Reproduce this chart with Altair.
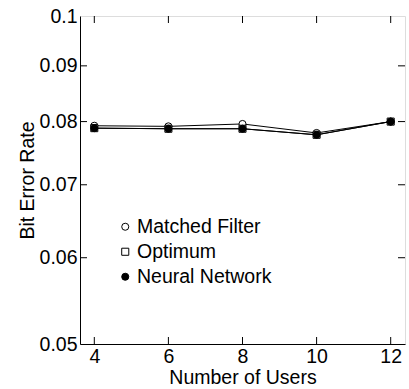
import altair as alt
import pandas as pd

users = [4, 6, 8, 10, 12]
matched_filter = [0.0793, 0.0792, 0.0796, 0.0781, 0.0800]
optimum = [0.0789, 0.0788, 0.0788, 0.0778, 0.0800]
neural_network = [0.0789, 0.0788, 0.0788, 0.0778, 0.0800]
series_names = ["Matched Filter", "Optimum", "Neural Network"]

x_ticks = [4, 6, 8, 10, 12]
y_ticks = [0.05, 0.06, 0.07, 0.08, 0.09, 0.1]

rows = []
for name, vals in zip(series_names, [matched_filter, optimum, neural_network]):
    for u, v in zip(users, vals):
        rows.append({"users": u, "ber": v, "series": name})
df = pd.DataFrame(rows)

W, H = 325, 328
FONT = "Liberation Sans"
FS = 19.5

xs = alt.Scale(domain=[3.614, 12.386], nice=False, zero=False)
ys = alt.Scale(type="log", domain=[0.05, 0.1], nice=False)

xenc = alt.X("users:Q", scale=xs, axis=alt.Axis(values=x_ticks, tickSize=0, labelPadding=3,
             labelFontSize=FS, titleFontSize=FS, title="Number of Users", titlePadding=3,
             grid=False, labelFont=FONT, titleFont=FONT, titleFontWeight="normal",
             labelColor="black", titleColor="black", domainColor="black"))
yenc = alt.Y("ber:Q", scale=ys, axis=alt.Axis(values=y_ticks, tickSize=0, labelPadding=3,
             format="~g", labelFontSize=FS, titleFontSize=FS, title="Bit Error Rate",
             titlePadding=2, grid=False, labelFont=FONT, titleFont=FONT,
             titleFontWeight="normal", labelColor="black", titleColor="black",
             domainColor="black"))

lines = alt.Chart(df).mark_line(color="black", strokeWidth=1).encode(
    x=xenc, y=yenc, detail="series:N",
    order=alt.Order("users:Q"))

shape_scale = alt.Scale(domain=series_names, range=["circle", "square", "circle"])
fill_scale = alt.Scale(domain=series_names, range=["white", "white", "black"])
stroke_scale = alt.Scale(domain=series_names, range=["black", "black", "black"])
size_scale = alt.Scale(domain=series_names, range=[50, 50, 24])

leg = alt.Legend(title=None, orient="none", legendX=35.5, legendY=201, padding=0,
                 labelFontSize=FS, labelFont=FONT, labelColor="black",
                 symbolStrokeWidth=1, labelOffset=2, rowPadding=4)

points = alt.Chart(df).mark_point(strokeWidth=1, opacity=1, filled=False).encode(
    x="users:Q", y="ber:Q",
    shape=alt.Shape("series:N", scale=shape_scale, sort=series_names, legend=leg),
    fill=alt.Fill("series:N", scale=fill_scale, sort=series_names, legend=leg),
    stroke=alt.Stroke("series:N", scale=stroke_scale, sort=series_names, legend=leg),
    size=alt.Size("series:N", scale=size_scale, sort=series_names, legend=leg),
)

xt = pd.DataFrame({"t": x_ticks})
yt = pd.DataFrame({"t": y_ticks[1:-1]})
TL = 7
tb = alt.Chart(xt).mark_rule(color="black", strokeWidth=1).encode(
    x=alt.X("t:Q", scale=xs), y=alt.value(H), y2=alt.value(H - TL))
tt = alt.Chart(xt).mark_rule(color="black", strokeWidth=1).encode(
    x=alt.X("t:Q", scale=xs), y=alt.value(0), y2=alt.value(TL))
tl = alt.Chart(yt).mark_rule(color="black", strokeWidth=1).encode(
    y=alt.Y("t:Q", scale=ys), x=alt.value(0), x2=alt.value(TL))
tr = alt.Chart(yt).mark_rule(color="black", strokeWidth=1).encode(
    y=alt.Y("t:Q", scale=ys), x=alt.value(W), x2=alt.value(W - TL))

chart = alt.layer(lines, tb, tt, tl, tr, points).resolve_scale(x="shared", y="shared").properties(
    width=W, height=H,
    autosize=alt.AutoSizeParams(type="none"),
    padding={"left": 80, "top": 16, "right": 4, "bottom": 45},
).configure_view(stroke="black", strokeWidth=1).configure(background="white")

chart.save("out.html", embed_options={"renderer": "svg", "actions": False})
